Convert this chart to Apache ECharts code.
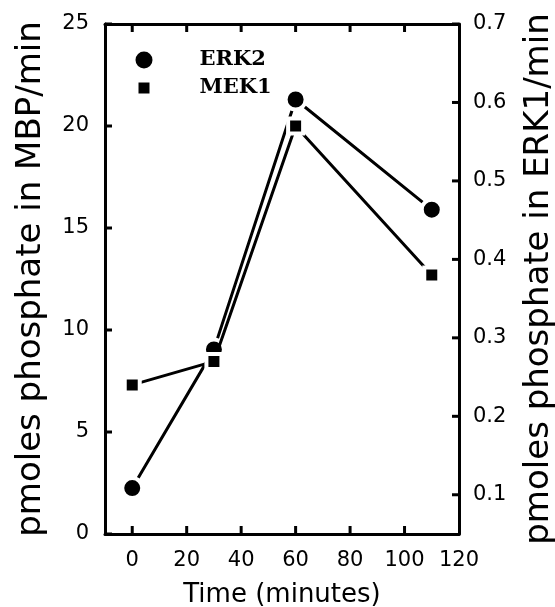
<!DOCTYPE html>
<html>
<head>
<meta charset="utf-8">
<script src="https://cdn.jsdelivr.net/npm/echarts@6/dist/echarts.min.js"></script>
<style>
html,body{margin:0;padding:0;background:#fff;}
#chart{width:555px;height:607px;}
</style>
</head>
<body>
<div id="chart"></div>
<script>
// Data
var timeMinutes = [0, 30, 60, 110];
var erk2MBP = [2.25, 9.05, 21.3, 15.9];      // pmoles phosphate in MBP/min (left axis)
var mek1ERK1 = [0.24, 0.27, 0.57, 0.38];     // pmoles phosphate in ERK1/min (right axis)
var xTickLabels = [0, 20, 40, 60, 80, 100, 120];
var xTickMarks = [0, 20, 40, 60, 80, 100];
var leftTicks = [0, 5, 10, 15, 20, 25];
var rightTicks = [0.1, 0.2, 0.3, 0.4, 0.5, 0.6, 0.7];
var xTitle = 'Time (minutes)';
var leftTitle = 'pmoles phosphate in MBP/min';
var rightTitle = 'pmoles phosphate in ERK1/min';

var X_MIN = -10, X_MAX = 120, L_MIN = 0, L_MAX = 25, R_MIN = 0.05, R_MAX = 0.7;

function pairs(xs, ys) { return xs.map(function (x, i) { return [x, ys[i]]; }); }
function axisLine() { return {show: true, onZero: false, lineStyle: {color: '#000', width: 3}}; }
function labels(margin, vals) {
  var l = {show: true, margin: margin, color: '#000', fontFamily: 'DejaVu Sans', fontSize: 21};
  if (vals) l.customValues = vals;
  return l;
}
function titleText(text, x, y, rot, size) {
  return {
    type: 'text', x: x, y: y, rotation: rot, silent: true,
    style: {text: text, fill: '#000', fontFamily: 'DejaVu Sans', fontSize: size, align: 'center', verticalAlign: 'middle'}
  };
}
// inward tick marks drawn through the axes' own scales
function tickSeries(data, yAxisIndex, dx, dy) {
  return {
    type: 'custom', xAxisIndex: 0, yAxisIndex: yAxisIndex, silent: true, clip: false, z: 1,
    data: data,
    renderItem: function (params, api) {
      var p = api.coord([api.value(0), api.value(1)]);
      return {
        type: 'line',
        shape: {x1: p[0], y1: p[1], x2: p[0] + dx, y2: p[1] + dy},
        style: {stroke: '#000', lineWidth: 3}
      };
    }
  };
}

var chart = echarts.init(document.getElementById('chart'), null, {renderer: 'canvas'});

chart.setOption({
  animation: false,
  grid: {left: 105, right: 96, top: 24, bottom: 73, outerBoundsMode: 'none'},
  legend: [
    {
      data: ['ERK2'], orient: 'vertical', left: 135.5, top: 49.5, padding: 0,
      icon: 'circle', itemWidth: 17, itemHeight: 17,
      itemStyle: {borderWidth: 0, color: '#000'},
      formatter: '{a|{name}}',
      textStyle: {rich: {a: {fontFamily: 'DejaVu Serif', fontWeight: 'bold', fontSize: 21, color: '#000', padding: [0, 0, 0, 42]}}}
    },
    {
      data: ['MEK1'], orient: 'vertical', left: 138.5, top: 77.5, padding: 0,
      icon: 'rect', itemWidth: 11, itemHeight: 11,
      itemStyle: {borderWidth: 0, color: '#000'},
      formatter: '{a|{name}}',
      textStyle: {rich: {a: {fontFamily: 'DejaVu Serif', fontWeight: 'bold', fontSize: 21, color: '#000', padding: [0, 0, 0, 45]}}}
    }
  ],
  graphic: [
    titleText(xTitle, 282, 595, 0, 26),
    titleText(leftTitle, 31, 279, Math.PI / 2, 34),
    titleText(rightTitle, 539, 279, Math.PI / 2, 34)
  ],
  xAxis: [
    {
      type: 'value', position: 'bottom', min: X_MIN, max: X_MAX,
      axisLine: axisLine(),
      axisTick: {show: false},
      axisLabel: labels(16, xTickLabels),
      splitLine: {show: false}
    },
    {
      type: 'value', position: 'top', min: X_MIN, max: X_MAX,
      axisLine: axisLine(),
      axisTick: {show: false},
      axisLabel: {show: false},
      splitLine: {show: false}
    }
  ],
  yAxis: [
    {
      type: 'value', position: 'left', min: L_MIN, max: L_MAX, interval: 5,
      axisLine: axisLine(),
      axisTick: {show: false},
      axisLabel: labels(16),
      splitLine: {show: false}
    },
    {
      type: 'value', position: 'right', min: R_MIN, max: R_MAX,
      axisLine: axisLine(),
      axisTick: {show: false},
      axisLabel: labels(14, rightTicks),
      splitLine: {show: false}
    }
  ],
  series: [
    tickSeries(xTickMarks.map(function (v) { return [v, L_MIN]; }), 0, 0, -8),
    tickSeries(xTickMarks.map(function (v) { return [v, L_MAX]; }), 0, 0, 8),
    tickSeries(leftTicks.map(function (v) { return [X_MIN, v]; }), 0, 7, 0),
    tickSeries(rightTicks.map(function (v) { return [X_MAX, v]; }), 1, -7, 0),
    {
      name: 'ERK2', type: 'line', xAxisIndex: 0, yAxisIndex: 0,
      data: pairs(timeMinutes, erk2MBP),
      symbol: 'circle', symbolSize: 20,
      lineStyle: {color: '#000', width: 3},
      itemStyle: {color: '#000', borderColor: '#fff', borderWidth: 4},
      z: 3
    },
    {
      name: 'MEK1', type: 'line', xAxisIndex: 0, yAxisIndex: 1,
      data: pairs(timeMinutes, mek1ERK1),
      symbol: 'rect', symbolSize: 15,
      lineStyle: {color: '#000', width: 3},
      itemStyle: {color: '#000', borderColor: '#fff', borderWidth: 4},
      z: 4
    }
  ]
});
</script>
</body>
</html>
